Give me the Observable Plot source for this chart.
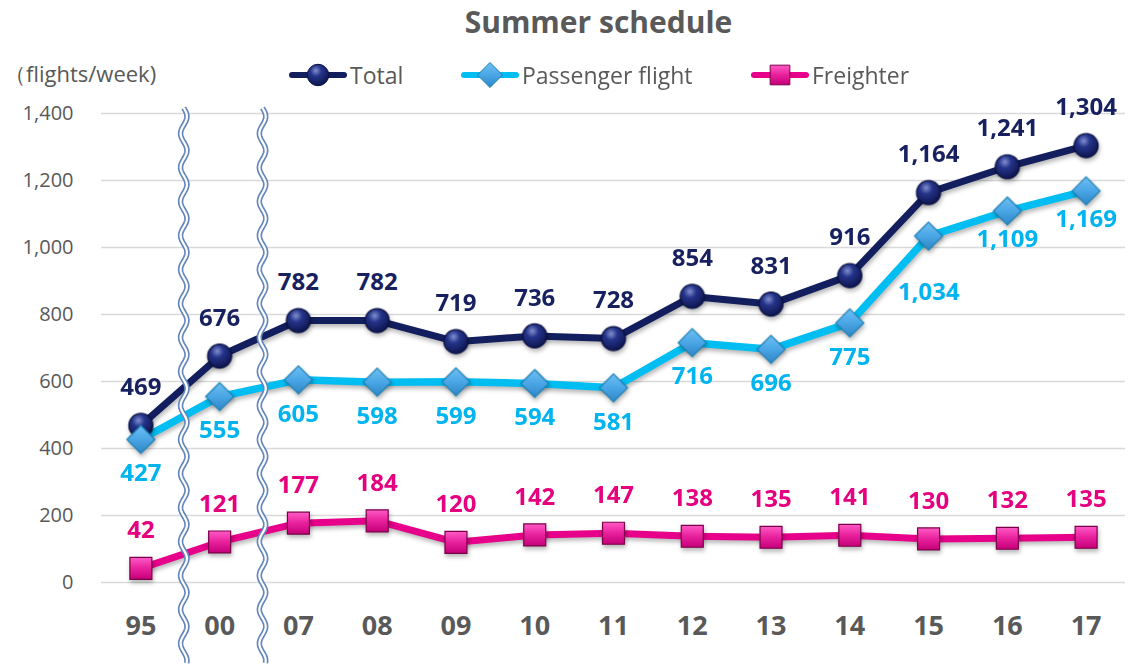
<!DOCTYPE html>
<html><head><meta charset="utf-8">
<script src="https://cdn.jsdelivr.net/npm/d3@7"></script>
<script src="https://cdn.jsdelivr.net/npm/@observablehq/plot@0.6"></script>
<style>
body{margin:0;background:#fff;}
#wrap{position:relative;width:1137px;height:664px;font-family:"Open Sans",sans-serif;}
#title{position:absolute;left:0;width:1197px;top:2px;text-align:center;font-weight:700;font-size:30px;color:#595959;line-height:40px;}
#ytitle{position:absolute;left:4px;top:58px;font-size:22px;color:#595959;line-height:30px;font-family:"Open Sans",sans-serif;}
.leg{position:absolute;top:60px;height:30px;display:flex;align-items:center;font-size:23px;color:#595959;font-family:"Open Sans",sans-serif;}
.leg svg{display:block;margin-right:2px;}
.shadow{filter:drop-shadow(1px 3px 2px rgba(0,0,0,0.28));}
#chart{position:absolute;left:0;top:0;}
</style>
</head><body>
<div id="wrap">
  <div id="chart"></div>
  <div id="title">Summer schedule</div>
  <div id="ytitle">（flights/week)</div>
  <div id="legend"></div>
</div>
<script>
const years = ["95","00","07","08","09","10","11","12","13","14","15","16","17"];
const total = [469,676,782,782,719,736,728,854,831,916,1164,1241,1304];
const passenger = [427,555,605,598,599,594,581,716,696,775,1034,1109,1169];
const freighter = [42,121,177,184,120,142,147,138,135,141,130,132,135];
const seriesNames = ["Total","Passenger flight","Freighter"];
const yTicks = [0,200,400,600,800,1000,1200,1400];

const colors = {line:["#131e5e","#00bef2","#e6008a"], label:["#18215f","#00b4ef","#e4007f"]};
const symbols = ["circle","diamond2","square"];
const fills = ["url(#gBall)","url(#gDia)","url(#gSq)"];
const strokes = ["#0a1040","#1a7fb2","#7a0048"];
const radii = [12,12.6,12.4];
const labelDy = [-38,34,-38];
const seriesVals = [total,passenger,freighter];

const fmt = d3.format(",");
const rows = seriesVals.map((vals,s)=>years.map((y,i)=>({year:y,value:vals[i],s})));

function breaks(index, scales, values, dims) {
  const ns = "http://www.w3.org/2000/svg";
  const g = document.createElementNS(ns,"g");
  const x = scales.x;
  const pairs = [[years[0],years[1]],[years[1],years[2]]];
  for (const [a,b] of pairs) {
    const cx = (x(a)+x(b))/2 + 4;
    const y0 = dims.marginTop - 5, y1 = dims.height;
    let d = "";
    for (let y=y0; y<=y1; y+=1.5) {
      const xx = cx + 3.2*Math.sin((y-y0)/34*2*Math.PI);
      d += (y===y0?"M":"L")+xx.toFixed(2)+","+y.toFixed(2);
    }
    for (const [w,c] of [[5.5,"#6486bb"],[2.2,"#ffffff"]]) {
      const p = document.createElementNS(ns,"path");
      p.setAttribute("d",d); p.setAttribute("fill","none");
      p.setAttribute("stroke",c); p.setAttribute("stroke-width",w);
      g.appendChild(p);
    }
  }
  return g;
}

const marks = [
  Plot.gridY(yTicks,{stroke:"#d9d9d9",strokeOpacity:1,strokeWidth:1.6}),
  Plot.axisY(yTicks,{tickSize:0,tickPadding:28,fontSize:20,tickFormat:fmt,color:"#595959",label:null}),
  Plot.axisX({tickSize:0,tickPadding:33,fontSize:27,fontWeight:700,color:"#595959",label:null})
];
rows.forEach((data,s)=>{
  marks.push(Plot.line(data,{x:"year",y:"value",stroke:colors.line[s],strokeWidth:s===1?7.5:7,className:"shadow"}));
});
marks.push(breaks);
rows.forEach((data,s)=>{
  marks.push(Plot.dot(data,{x:"year",y:"value",symbol:()=>symbols[s],r:radii[s],fill:fills[s],stroke:strokes[s],strokeWidth:1.2,className:"shadow"}));
});
const textOpts = (s,dy,filter)=>({x:"year",y:"value",text:d=>fmt(d.value),dy,filter,fill:colors.label[s],fontSize:24,fontWeight:700,fontFamily:"Open Sans"});
marks.push(Plot.text(rows[0], textOpts(0,labelDy[0])));
marks.push(Plot.text(rows[2], textOpts(2,labelDy[2])));
// passenger labels: the one under the steep 14→15 rise sits lower, the last two sit closer
marks.push(Plot.text(rows[1], textOpts(1,labelDy[1],d=>d.year!=="15"&&d.year!=="16"&&d.year!=="17")));
marks.push(Plot.text(rows[1], textOpts(1,56,d=>d.year==="15")));
marks.push(Plot.text(rows[1], textOpts(1,28,d=>d.year==="16"||d.year==="17")));

const chart = Plot.plot({
  width:1137,height:664,
  marginLeft:101,marginRight:12,marginTop:113,marginBottom:82,
  style:{fontFamily:"Open Sans",background:"transparent",overflow:"visible"},
  x:{type:"point",domain:years,padding:0.5,round:false,axis:null},
  y:{domain:[0,1400],axis:null},
  symbol:{type:"identity"},
  marks
});
const ns = "http://www.w3.org/2000/svg";
const defsHTML = `
<radialGradient id="gBall" cx="40%" cy="30%" r="75%">
 <stop offset="0%" stop-color="#8290d0"/><stop offset="35%" stop-color="#25348a"/><stop offset="100%" stop-color="#0b1248"/>
</radialGradient>
<linearGradient id="gDia" x1="0" y1="0" x2="0" y2="1">
 <stop offset="0%" stop-color="#6fc0f2"/><stop offset="50%" stop-color="#4aa6e6"/><stop offset="100%" stop-color="#2f86c6"/>
</linearGradient>
<linearGradient id="gSq" x1="0" y1="0" x2="0" y2="1">
 <stop offset="0%" stop-color="#ff5ac6"/><stop offset="50%" stop-color="#e8209c"/><stop offset="100%" stop-color="#c40078"/>
</linearGradient>`;
const defs = document.createElementNS(ns,"defs");
defs.innerHTML = defsHTML;
chart.prepend(defs);
document.getElementById("chart").appendChild(chart);

// legend
const legPos = [288,460,750];
const leg = document.getElementById("legend");
seriesNames.forEach((name,s)=>{
  const item = document.createElement("div");
  item.className = "leg";
  item.style.left = legPos[s]+"px";
  const sym = d3.symbol(s===0?d3.symbolCircle:s===1?d3.symbolDiamond2:d3.symbolSquare, Math.PI*radii[s]*radii[s]*0.8)();
  item.innerHTML = `<svg width="60" height="30"><line x1="4" x2="56" y1="15" y2="15" stroke="${colors.line[s]}" stroke-width="6" stroke-linecap="round"/><path transform="translate(30,15)" d="${sym}" fill="${fills[s]}" stroke="${strokes[s]}" stroke-width="1"/></svg><span>${name}</span>`;
  leg.appendChild(item);
});
</script>
</body></html>
